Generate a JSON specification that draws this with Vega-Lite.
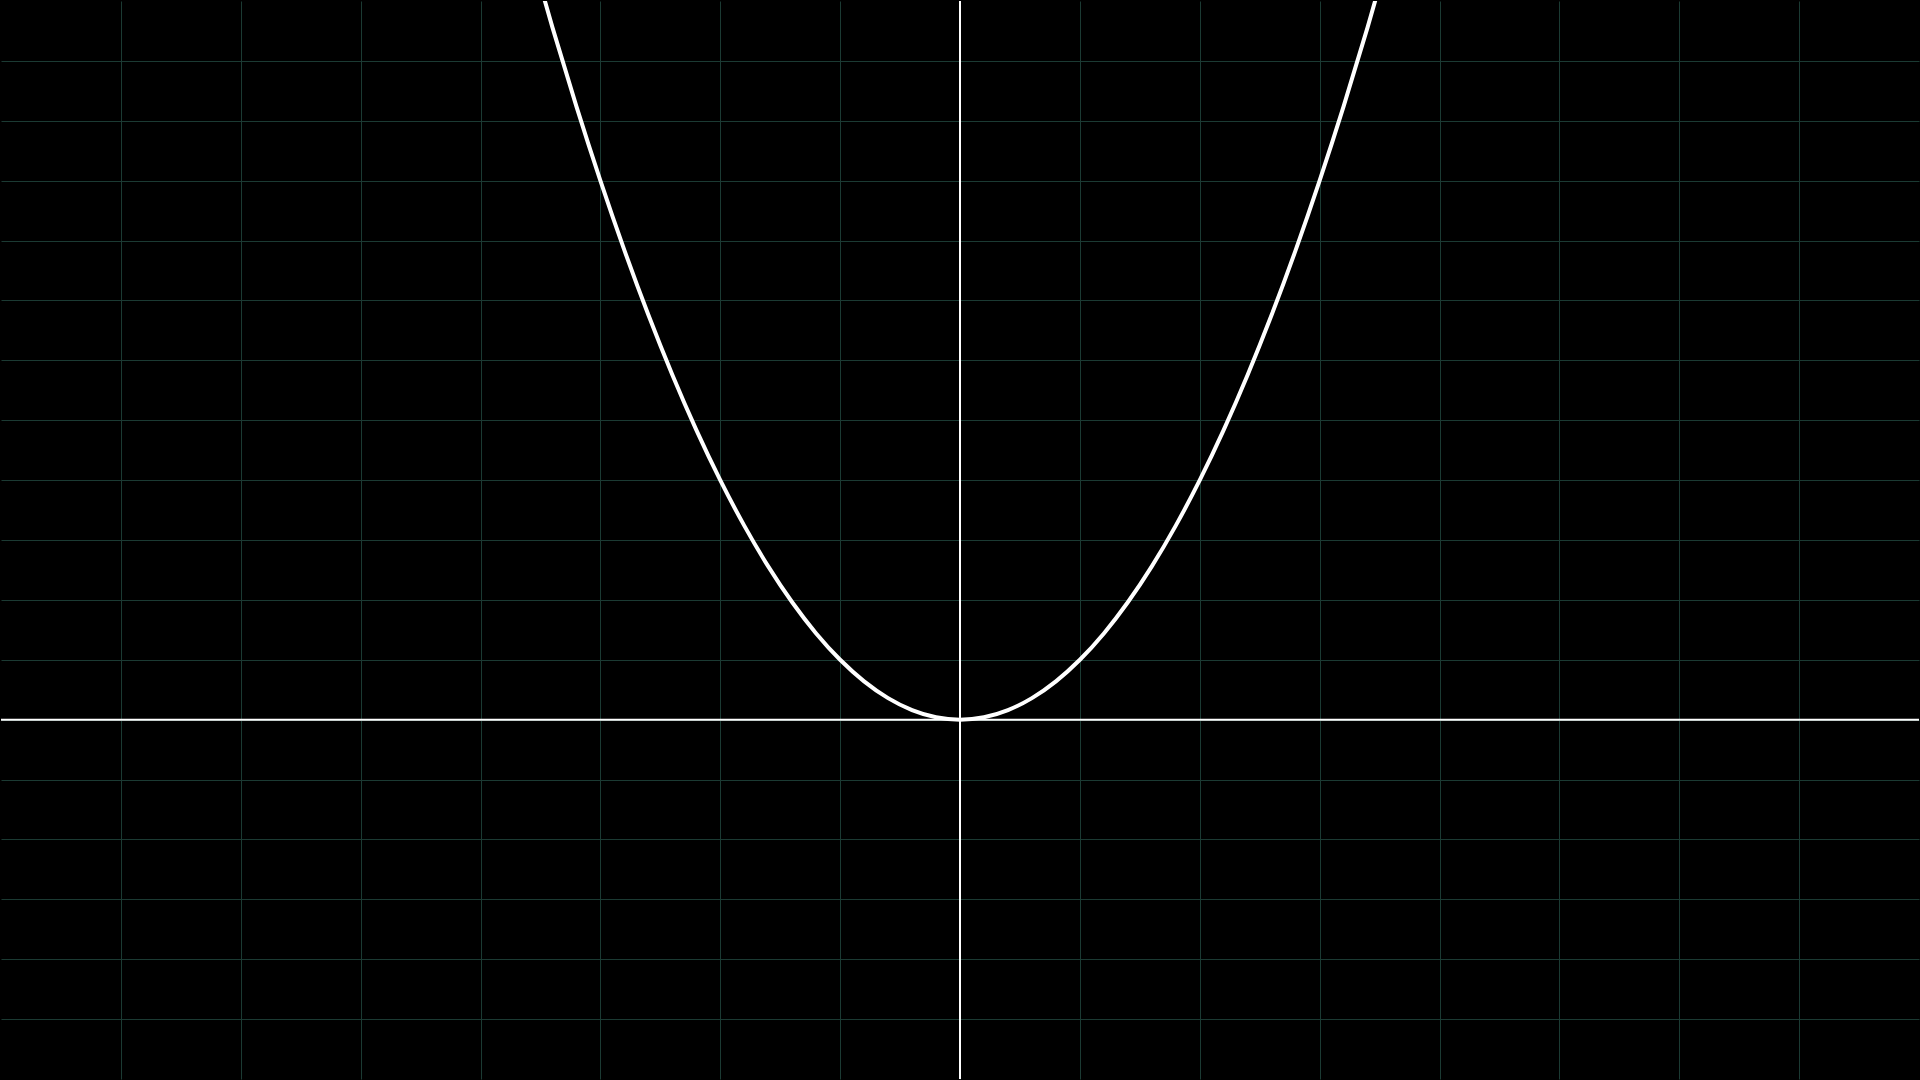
{
  "$schema": "https://vega.github.io/schema/vega-lite/v6.json",
  "width": 1920,
  "height": 1080,
  "autosize": {"type": "fit", "contains": "padding"},
  "padding": 0,
  "background": "#000000",
  "config": {"view": {"stroke": null, "fill": "#000000"}},
  "datasets": {
    "curve": [
      {"x": -3.6, "y": 12.96}, {"x": -3.4, "y": 11.56}, {"x": -3.2, "y": 10.24}, {"x": -3.0, "y": 9.0},
      {"x": -2.8, "y": 7.84}, {"x": -2.6, "y": 6.76}, {"x": -2.4, "y": 5.76}, {"x": -2.2, "y": 4.84},
      {"x": -2.0, "y": 4.0}, {"x": -1.8, "y": 3.24}, {"x": -1.6, "y": 2.56}, {"x": -1.4, "y": 1.96},
      {"x": -1.2, "y": 1.44}, {"x": -1.0, "y": 1.0}, {"x": -0.8, "y": 0.64}, {"x": -0.6, "y": 0.36},
      {"x": -0.4, "y": 0.16}, {"x": -0.2, "y": 0.04}, {"x": 0.0, "y": 0.0}, {"x": 0.2, "y": 0.04},
      {"x": 0.4, "y": 0.16}, {"x": 0.6, "y": 0.36}, {"x": 0.8, "y": 0.64}, {"x": 1.0, "y": 1.0},
      {"x": 1.2, "y": 1.44}, {"x": 1.4, "y": 1.96}, {"x": 1.6, "y": 2.56}, {"x": 1.8, "y": 3.24},
      {"x": 2.0, "y": 4.0}, {"x": 2.2, "y": 4.84}, {"x": 2.4, "y": 5.76}, {"x": 2.6, "y": 6.76},
      {"x": 2.8, "y": 7.84}, {"x": 3.0, "y": 9.0}, {"x": 3.2, "y": 10.24}, {"x": 3.4, "y": 11.56},
      {"x": 3.6, "y": 12.96}
    ],
    "origin": [{"x": 0, "y": 0}]
  },
  "layer": [
    {
      "data": {"name": "curve"},
      "mark": {"type": "line", "color": "#ffffff", "strokeWidth": 4, "clip": true, "interpolate": "monotone"},
      "encoding": {
        "x": {
          "field": "x", "type": "quantitative",
          "scale": {"domain": [-8, 8], "nice": false, "zero": false},
          "axis": {
            "title": null, "labels": false, "ticks": false, "domain": false,
            "values": [-7,-6,-5,-4,-3,-2,-1,0,1,2,3,4,5,6,7],
            "grid": true, "gridColor": "#1b3a33", "gridWidth": 1, "gridOpacity": 1
          }
        },
        "y": {
          "field": "y", "type": "quantitative",
          "scale": {"domain": [-6, 12], "nice": false, "zero": false},
          "axis": {
            "title": null, "labels": false, "ticks": false, "domain": false,
            "values": [-5,-4,-3,-2,-1,0,1,2,3,4,5,6,7,8,9,10,11],
            "grid": true, "gridColor": "#1b3a33", "gridWidth": 1, "gridOpacity": 1
          }
        }
      }
    },
    {
      "data": {"name": "origin"},
      "mark": {"type": "rule", "color": "#ffffff", "strokeWidth": 2},
      "encoding": {"x": {"field": "x", "type": "quantitative"}}
    },
    {
      "data": {"name": "origin"},
      "mark": {"type": "rule", "color": "#ffffff", "strokeWidth": 2},
      "encoding": {"y": {"field": "y", "type": "quantitative"}}
    }
  ]
}
